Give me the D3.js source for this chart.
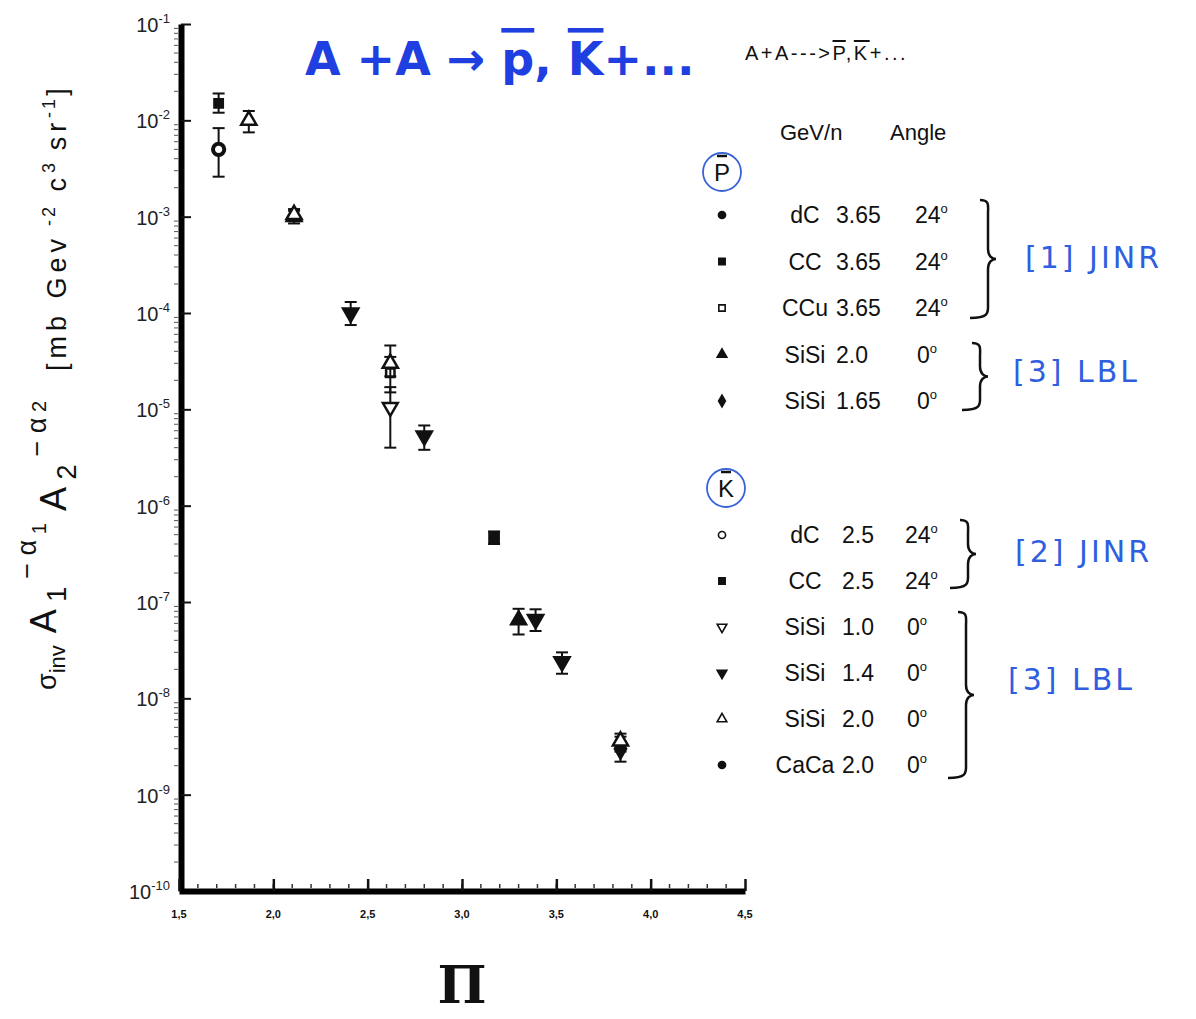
<!DOCTYPE html>
<html>
<head>
<meta charset="utf-8">
<script src="https://cdn.jsdelivr.net/npm/d3@7"></script>
<style>
  body { margin: 0; background: #fff; }
  text { font-family: "Liberation Sans", Arial, sans-serif; fill: #111; }
  .hand { font-family: "DejaVu Sans", sans-serif; fill: #2f5fe0; }
</style>
</head>
<body>
<svg id="chart" width="1196" height="1019"></svg>
<script>
// ---- data ----
var xTicks = [1.5, 2.0, 2.5, 3.0, 3.5, 4.0, 4.5];
var yExponents = [-1, -2, -3, -4, -5, -6, -7, -8, -9, -10];

// each point: [Pi, value, errLow, errHigh]
var pbarCC     = [[1.71, 1.5e-2, 1.2e-2, 1.9e-2]];
var pbarCCu    = [[2.62, 2.4e-5, 1.5e-5, 3.5e-5]];
var pbarSiSi20 = [[3.30, 6.5e-8, 4.6e-8, 8.5e-8], [2.11, 1.0e-3, 0.85e-3, 1.15e-3]];
var pbarSiSi165 = [[3.84, 3.0e-9, 2.2e-9, 4.0e-9]];
var kmDC       = [[1.71, 5.0e-3, 2.6e-3, 8.3e-3]];
var kmCC       = [[3.17, 4.7e-7, 4.0e-7, 5.4e-7]];
var kmSiSi10   = [[2.62, 1.05e-5, 4.0e-6, 1.7e-5]];
var kmSiSi14   = [[2.41, 1.0e-4, 0.75e-4, 1.3e-4], [2.80, 5.3e-6, 3.8e-6, 6.8e-6],
                  [3.39, 6.6e-8, 5.0e-8, 8.4e-8], [3.53, 2.4e-8, 1.8e-8, 3.0e-8]];
var kmSiSi20   = [[1.87, 1.0e-2, 0.75e-2, 1.25e-2], [2.11, 1.05e-3, 0.9e-3, 1.2e-3],
                  [2.62, 3.0e-5, 2.2e-5, 4.6e-5], [3.84, 3.6e-9, 2.8e-9, 4.3e-9]];

var svg = d3.select('#chart');

var x = d3.scaleLinear().domain([1.5, 4.5]).range([179, 745]);
var y = d3.scaleLog().domain([1e-10, 1e-1]).range([891, 24]);

// ---- axes ----
var g = svg.append('g');

// minor ticks on the y axis (left side, faint)
var minor = [];
for (var e = -10; e < -1; e++) {
    for (var m = 2; m < 10; m++) minor.push(m * Math.pow(10, e));
}
g.selectAll('.ymin').data(minor).enter().append('line')
    .attr('x1', 174).attr('x2', 178)
    .attr('y1', function(d) { return y(d); }).attr('y2', function(d) { return y(d); })
    .style('stroke', '#555').style('stroke-width', 1);

var yAxis = d3.axisRight(y)
    .tickValues(yExponents.map(function(e) { return Math.pow(10, e); }))
    .tickSize(10).tickSizeOuter(0).tickFormat('');
var ya = g.append('g').attr('transform', 'translate(181,0)').call(yAxis);
ya.select('.domain').style('stroke', '#000').style('stroke-width', 6);
ya.selectAll('.tick line').style('stroke', '#111').style('stroke-width', 2);

var xMinor = d3.range(1.6, 4.45, 0.1);
g.selectAll('.xmin').data(xMinor).enter().append('line')
    .attr('x1', function(d) { return x(d); }).attr('x2', function(d) { return x(d); })
    .attr('y1', 888).attr('y2', 884)
    .style('stroke', '#333').style('stroke-width', 1.5);

var xAxis = d3.axisTop(x).tickValues(xTicks).tickSize(12).tickSizeOuter(0).tickFormat('');
var xa = g.append('g').attr('transform', 'translate(0,891)').call(xAxis);
xa.select('.domain').style('stroke', '#000').style('stroke-width', 6);
xa.selectAll('.tick line').style('stroke', '#111').style('stroke-width', 2.5);

// y tick labels 10^-n
yExponents.forEach(function(e) {
    var t = svg.append('text').attr('x', 170).attr('y', y(Math.pow(10, e)) + 8)
        .attr('text-anchor', 'end').style('font-size', '20px').style('fill', '#222');
    t.append('tspan').text('10');
    t.append('tspan').attr('dy', -9).style('font-size', '13px').text(String(e));
});

// x tick labels with comma decimal
xTicks.forEach(function(v) {
    svg.append('text').attr('x', x(v)).attr('y', 918)
        .attr('text-anchor', 'middle')
        .style('font-size', '11px').style('font-weight', 'bold')
        .text(v.toFixed(1).replace('.', ','));
});

// x axis title: Pi
svg.append('text').attr('x', 462).attr('y', 1003).attr('text-anchor', 'middle')
    .style('font-size', '52px').style('font-weight', 'bold').style('font-family', 'DejaVu Serif, serif')
    .text('\u03A0');

// y axis title (rotated)
var yt = svg.append('text')
    .attr('transform', 'translate(56,690) rotate(-90)')
    .style('font-size', '36px');
yt.append('tspan').style('font-size', '27px').text('\u03C3');
yt.append('tspan').attr('dy', 9).style('font-size', '22px').text('inv');
yt.append('tspan').attr('dy', -9).attr('dx', 12).text('A');
yt.append('tspan').attr('dy', 10).style('font-size', '27px').text(' 1');
yt.append('tspan').attr('dy', -30).attr('dx', 8).style('font-size', '27px').text('\u2212 \u03B1');
yt.append('tspan').attr('dy', 10).style('font-size', '20px').text(' 1');
yt.append('tspan').attr('dy', 20).attr('dx', 12).text('A');
yt.append('tspan').attr('dy', 10).style('font-size', '27px').text(' 2');
yt.append('tspan').attr('dy', -30).attr('dx', 8).style('font-size', '27px').text('\u2212 \u03B1');
yt.append('tspan').attr('dy', 0).style('font-size', '20px').text(' 2');
yt.append('tspan').attr('dy', 20).attr('dx', 30).style('font-size', '27px').style('letter-spacing', '5px').text('[mb  Gev');
yt.append('tspan').attr('dy', -11).style('font-size', '18px').style('letter-spacing', '3px').text(' -2');
yt.append('tspan').attr('dy', 11).style('font-size', '27px').style('letter-spacing', '5px').text('   c');
yt.append('tspan').attr('dy', -11).style('font-size', '18px').text('3');
yt.append('tspan').attr('dy', 11).style('font-size', '27px').style('letter-spacing', '5px').text('   sr');
yt.append('tspan').attr('dy', -11).style('font-size', '18px').style('letter-spacing', '3px').text('-1');
yt.append('tspan').attr('dy', 11).style('font-size', '27px').text(']');

// ---- series ----
var series = [
    {data: pbarCC, type: d3.symbolSquare, size: 70, fill: '#111'},
    {data: pbarCCu, type: d3.symbolSquare, size: 70, fill: 'none'},
    {data: pbarSiSi20, type: d3.symbolTriangle, size: 95, fill: '#111'},
    {data: pbarSiSi165, type: d3.symbolDiamond, size: 110, fill: '#111'},
    {data: kmDC, type: d3.symbolCircle, size: 100, fill: 'none', sw: 4},
    {data: kmCC, type: d3.symbolSquare, size: 85, fill: '#111'},
    {data: kmSiSi10, type: d3.symbolTriangle, size: 95, fill: 'none', rot: 180},
    {data: kmSiSi14, type: d3.symbolTriangle, size: 100, fill: '#111', rot: 180},
    {data: kmSiSi20, type: d3.symbolTriangle, size: 100, fill: 'none'}
];

var marks = svg.append('g');
series.forEach(function(s) {
    var sg = marks.append('g');
    var pts = sg.selectAll('g').data(s.data).enter().append('g');
    pts.append('line')
        .attr('x1', function(d) { return x(d[0]); }).attr('x2', function(d) { return x(d[0]); })
        .attr('y1', function(d) { return y(d[2]); }).attr('y2', function(d) { return y(d[3]); })
        .style('stroke', '#111').style('stroke-width', 2);
    [2, 3].forEach(function(k) {
        pts.append('line')
            .attr('x1', function(d) { return x(d[0]) - 6; }).attr('x2', function(d) { return x(d[0]) + 6; })
            .attr('y1', function(d) { return y(d[k]); }).attr('y2', function(d) { return y(d[k]); })
            .style('stroke', '#111').style('stroke-width', 2);
    });
    pts.append('path')
        .attr('d', d3.symbol().type(s.type).size(s.size))
        .attr('transform', function(d) {
            return 'translate(' + x(d[0]) + ',' + y(d[1]) + ')' + (s.rot ? ' rotate(' + s.rot + ')' : '');
        })
        .style('fill', s.fill === 'none' ? '#fff' : s.fill)
        .style('stroke', '#111').style('stroke-width', s.sw || 2.5);
});

// ---- titles ----
var tt = svg.append('text').attr('x', 305).attr('y', 75)
    .style('font-size', '46px').style('font-weight', 'bold')
    .style('fill', '#1f3fe0').style('font-family', 'DejaVu Sans, sans-serif');
tt.append('tspan').text('A +A \u2192 ');
tt.append('tspan').style('text-decoration', 'overline').text('p');
tt.append('tspan').text(', ');
tt.append('tspan').style('text-decoration', 'overline').text('K');
tt.append('tspan').text('+...');

var st = svg.append('text').attr('x', 745).attr('y', 60).style('font-size', '20px').style('letter-spacing', '2.5px');
st.append('tspan').text('A+A--->');
st.append('tspan').style('text-decoration', 'overline').text('P');
st.append('tspan').text(',');
st.append('tspan').style('text-decoration', 'overline').text('K');
st.append('tspan').text('+...');

// ---- legend ----
var legNames = ['GeV/n', 'Angle'];
svg.append('text').attr('x', 780).attr('y', 140).style('font-size', '22px').text(legNames[0]);
svg.append('text').attr('x', 890).attr('y', 140).style('font-size', '22px').text(legNames[1]);

function particle(cx, cy, label) {
    svg.append('ellipse').attr('cx', cx).attr('cy', cy).attr('rx', 19).attr('ry', 19)
        .style('fill', 'none').style('stroke', '#3a63d8').style('stroke-width', 1.8);
    svg.append('text').attr('x', cx).attr('y', cy + 9).attr('text-anchor', 'middle')
        .style('font-size', '24px').text(label);
    svg.append('line').attr('x1', cx - 5).attr('x2', cx + 5).attr('y1', cy - 16).attr('y2', cy - 16)
        .style('stroke', '#111').style('stroke-width', 2.5);
}
particle(722, 172, 'P');
particle(726, 488, 'K');

var pbarRows = [
    {sym: d3.symbolCircle, fill: true, name: 'dC', e: '3.65', a: '24'},
    {sym: d3.symbolSquare, fill: true, name: 'CC', e: '3.65', a: '24'},
    {sym: d3.symbolSquare, fill: false, name: 'CCu', e: '3.65', a: '24'},
    {sym: d3.symbolTriangle, fill: true, name: 'SiSi', e: '2.0', a: '0'},
    {sym: d3.symbolDiamond, fill: true, name: 'SiSi', e: '1.65', a: '0'}
];
var kmRows = [
    {sym: d3.symbolCircle, fill: false, name: 'dC', e: '2.5', a: '24'},
    {sym: d3.symbolSquare, fill: true, name: 'CC', e: '2.5', a: '24'},
    {sym: d3.symbolTriangle, fill: false, rot: 180, name: 'SiSi', e: '1.0', a: '0'},
    {sym: d3.symbolTriangle, fill: true, rot: 180, name: 'SiSi', e: '1.4', a: '0'},
    {sym: d3.symbolTriangle, fill: false, name: 'SiSi', e: '2.0', a: '0'},
    {sym: d3.symbolCircle, fill: true, name: 'CaCa', e: '2.0', a: '0'}
];

function rows(list, y0, dy, ex, ax) {
    list.forEach(function(r, i) {
        var cy = y0 + i * dy;
        svg.append('path').attr('d', d3.symbol().type(r.sym).size(40)())
            .attr('transform', 'translate(722,' + cy + ')' + (r.rot ? ' rotate(' + r.rot + ')' : ''))
            .style('fill', r.fill ? '#111' : '#fff').style('stroke', '#111').style('stroke-width', 1.6);
        svg.append('text').attr('x', 805).attr('y', cy + 8).attr('text-anchor', 'middle')
            .style('font-size', '23px').text(r.name);
        svg.append('text').attr('x', ex).attr('y', cy + 8).style('font-size', '23px').text(r.e);
        var at = svg.append('text').attr('x', r.a === '24' ? ax : ax + 2).attr('y', cy + 8)
            .style('font-size', '23px');
        at.append('tspan').text(r.a);
        at.append('tspan').attr('dy', -10).style('font-size', '13px').text('o');
    });
}
rows(pbarRows, 215, 46.5, 836, 915);
rows(kmRows, 535, 46, 842, 905);

// curly braces
function brace(xb, y1, y2) {
    var m = (y1 + y2) / 2;
    var p = 'M' + xb + ',' + y1 + ' C' + (xb + 10) + ',' + y1 + ' ' + (xb + 8) + ',' + (y1 + 6) + ' ' + (xb + 8) + ',' + (y1 + 14) +
        ' L' + (xb + 8) + ',' + (m - 10) + ' C' + (xb + 8) + ',' + (m - 3) + ' ' + (xb + 12) + ',' + m + ' ' + (xb + 16) + ',' + m +
        ' C' + (xb + 12) + ',' + m + ' ' + (xb + 8) + ',' + (m + 3) + ' ' + (xb + 8) + ',' + (m + 10) +
        ' L' + (xb + 8) + ',' + (y2 - 14) + ' C' + (xb + 8) + ',' + (y2 - 6) + ' ' + (xb + 10) + ',' + y2 + ' ' + (xb - 10) + ',' + y2;
    svg.append('path').attr('d', p).style('fill', 'none').style('stroke', '#111').style('stroke-width', 2.5);
}
brace(980, 200, 318);
brace(972, 343, 410);
brace(960, 520, 588);
brace(958, 612, 778);

function ref(xp, yp, label) {
    svg.append('text').attr('class', 'hand').attr('x', xp).attr('y', yp)
        .style('font-size', '30px').style('letter-spacing', '3px').text(label);
}
ref(1025, 268, '[1] JINR');
ref(1013, 382, '[3] LBL');
ref(1015, 562, '[2] JINR');
ref(1008, 690, '[3] LBL');
</script>
</body>
</html>
